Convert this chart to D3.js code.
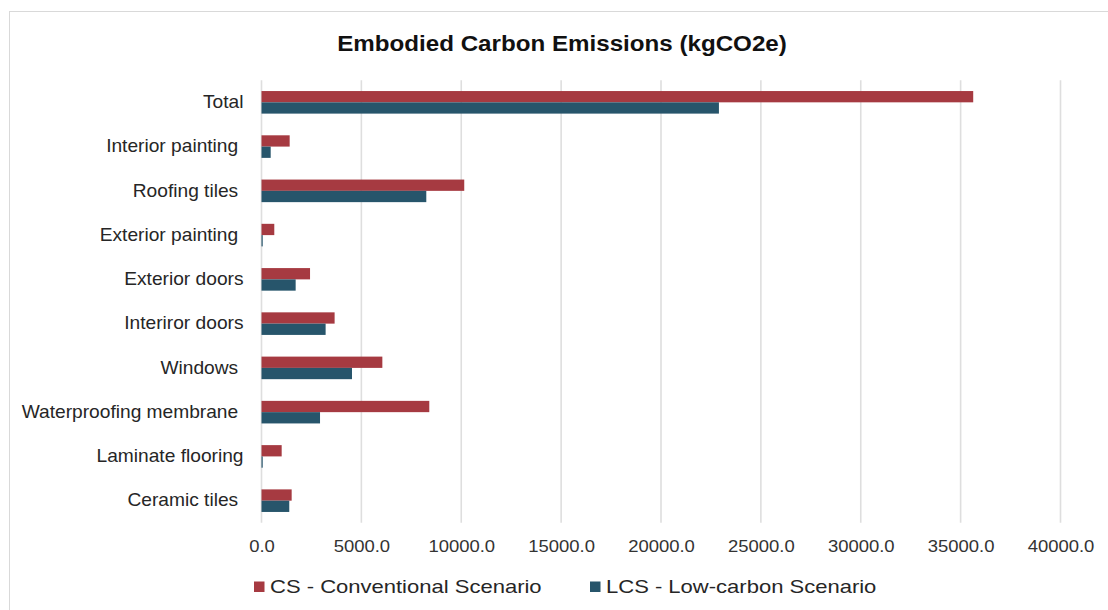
<!DOCTYPE html>
<html>
<head>
<meta charset="utf-8">
<script src="https://cdn.jsdelivr.net/npm/d3@7"></script>
<style>
  html, body { margin: 0; padding: 0; background: #ffffff; }
  svg { display: block; font-family: "Liberation Sans", Arial, sans-serif; }
  text { white-space: pre; }
</style>
</head>
<body>
<svg id="chart" width="1108" height="610"></svg>
<script>
// Building elements, listed top to bottom as drawn
const categories = [
  "Total",
  "Interior painting ",
  "Roofing tiles ",
  "Exterior painting ",
  "Exterior doors",
  "Interiror doors",
  "Windows ",
  "Waterproofing membrane ",
  "Laminate flooring",
  "Ceramic tiles "
];

// Embodied carbon, kgCO2e
const conventional = [35630, 1410, 10150, 640, 2430, 3660, 6050, 8400, 1010, 1510];
const lowCarbon    = [22900, 460, 8250, 60, 1710, 3210, 4530, 2930, 60, 1390];

const seriesNames = ["CS - Conventional Scenario", "LCS - Low-carbon Scenario"];
const seriesColors = ["#a63a41", "#27556b"];
const tickValues = [0, 5000, 10000, 15000, 20000, 25000, 30000, 35000, 40000];

const svg = d3.select("#chart");

// Outer chart frame
svg.append("rect")
  .attr("x", 9.5).attr("y", 11.5)
  .attr("width", 1120).attr("height", 620)
  .attr("fill", "#ffffff")
  .attr("stroke", "#d9d9d9")
  .attr("stroke-width", 1);

const x = d3.scaleLinear().domain([0, 40000]).range([261.5, 1060.5]);
const y = d3.scaleBand().domain(categories).range([80.2, 522.8])
  .paddingInner(0.49).paddingOuter(0.245);
const ySub = d3.scaleBand().domain([0, 1]).range([0, y.bandwidth()]);

// Vertical gridlines
svg.append("g")
  .selectAll("line")
  .data(tickValues)
  .join("line")
  .attr("x1", d => x(d)).attr("x2", d => x(d))
  .attr("y1", 80.2).attr("y2", 522.8)
  .attr("stroke", "#dedede")
  .attr("stroke-width", 1.6);

// Axis tick labels (slightly widened face)
const xAxis = d3.axisBottom(x)
  .tickValues(tickValues)
  .tickFormat(d3.format(".1f"))
  .tickSize(0)
  .tickPadding(0);
const gx = svg.append("g").attr("transform", "translate(0,540)").call(xAxis);
gx.select(".domain").remove();
gx.selectAll("text")
  .attr("font-size", 16.5)
  .attr("fill", "#333333")
  .attr("font-family", "Liberation Sans, Arial, sans-serif")
  .attr("transform", "scale(1.12,1)");

// Category labels
const yAxis = d3.axisLeft(y).tickSize(0).tickPadding(0);
const gy = svg.append("g")
  .attr("transform", "translate(243.5,0) scale(1.065,1)")
  .call(yAxis);
gy.select(".domain").remove();
gy.selectAll("text")
  .attr("font-size", 18)
  .attr("fill", "#262626")
  .attr("font-family", "Liberation Sans, Arial, sans-serif");

// Bars
const series = [conventional, lowCarbon];
series.forEach((vals, si) => {
  svg.append("g")
    .selectAll("rect")
    .data(vals)
    .join("rect")
    .attr("x", x(0))
    .attr("y", (d, i) => y(categories[i]) + ySub(si))
    .attr("width", d => x(d) - x(0))
    .attr("height", ySub.bandwidth())
    .attr("fill", seriesColors[si]);
});

// Title
svg.append("g")
  .attr("transform", "translate(562,51) scale(1.124,1)")
  .append("text")
  .attr("text-anchor", "middle")
  .attr("font-size", 21.5)
  .attr("font-weight", "bold")
  .attr("fill", "#111111")
  .text("Embodied Carbon Emissions (kgCO2e)");

// Legend
const legendX = [254, 590];
const legend = svg.append("g");
seriesNames.forEach((name, i) => {
  legend.append("rect")
    .attr("x", legendX[i]).attr("y", 581.5)
    .attr("width", 10.5).attr("height", 10.5)
    .attr("fill", seriesColors[i]);
  legend.append("g")
    .attr("transform", `translate(${legendX[i] + 16},592.7) scale(1.19,1)`)
    .append("text")
    .attr("font-size", 18.5)
    .attr("fill", "#262626")
    .text(name);
});
</script>
</body>
</html>
